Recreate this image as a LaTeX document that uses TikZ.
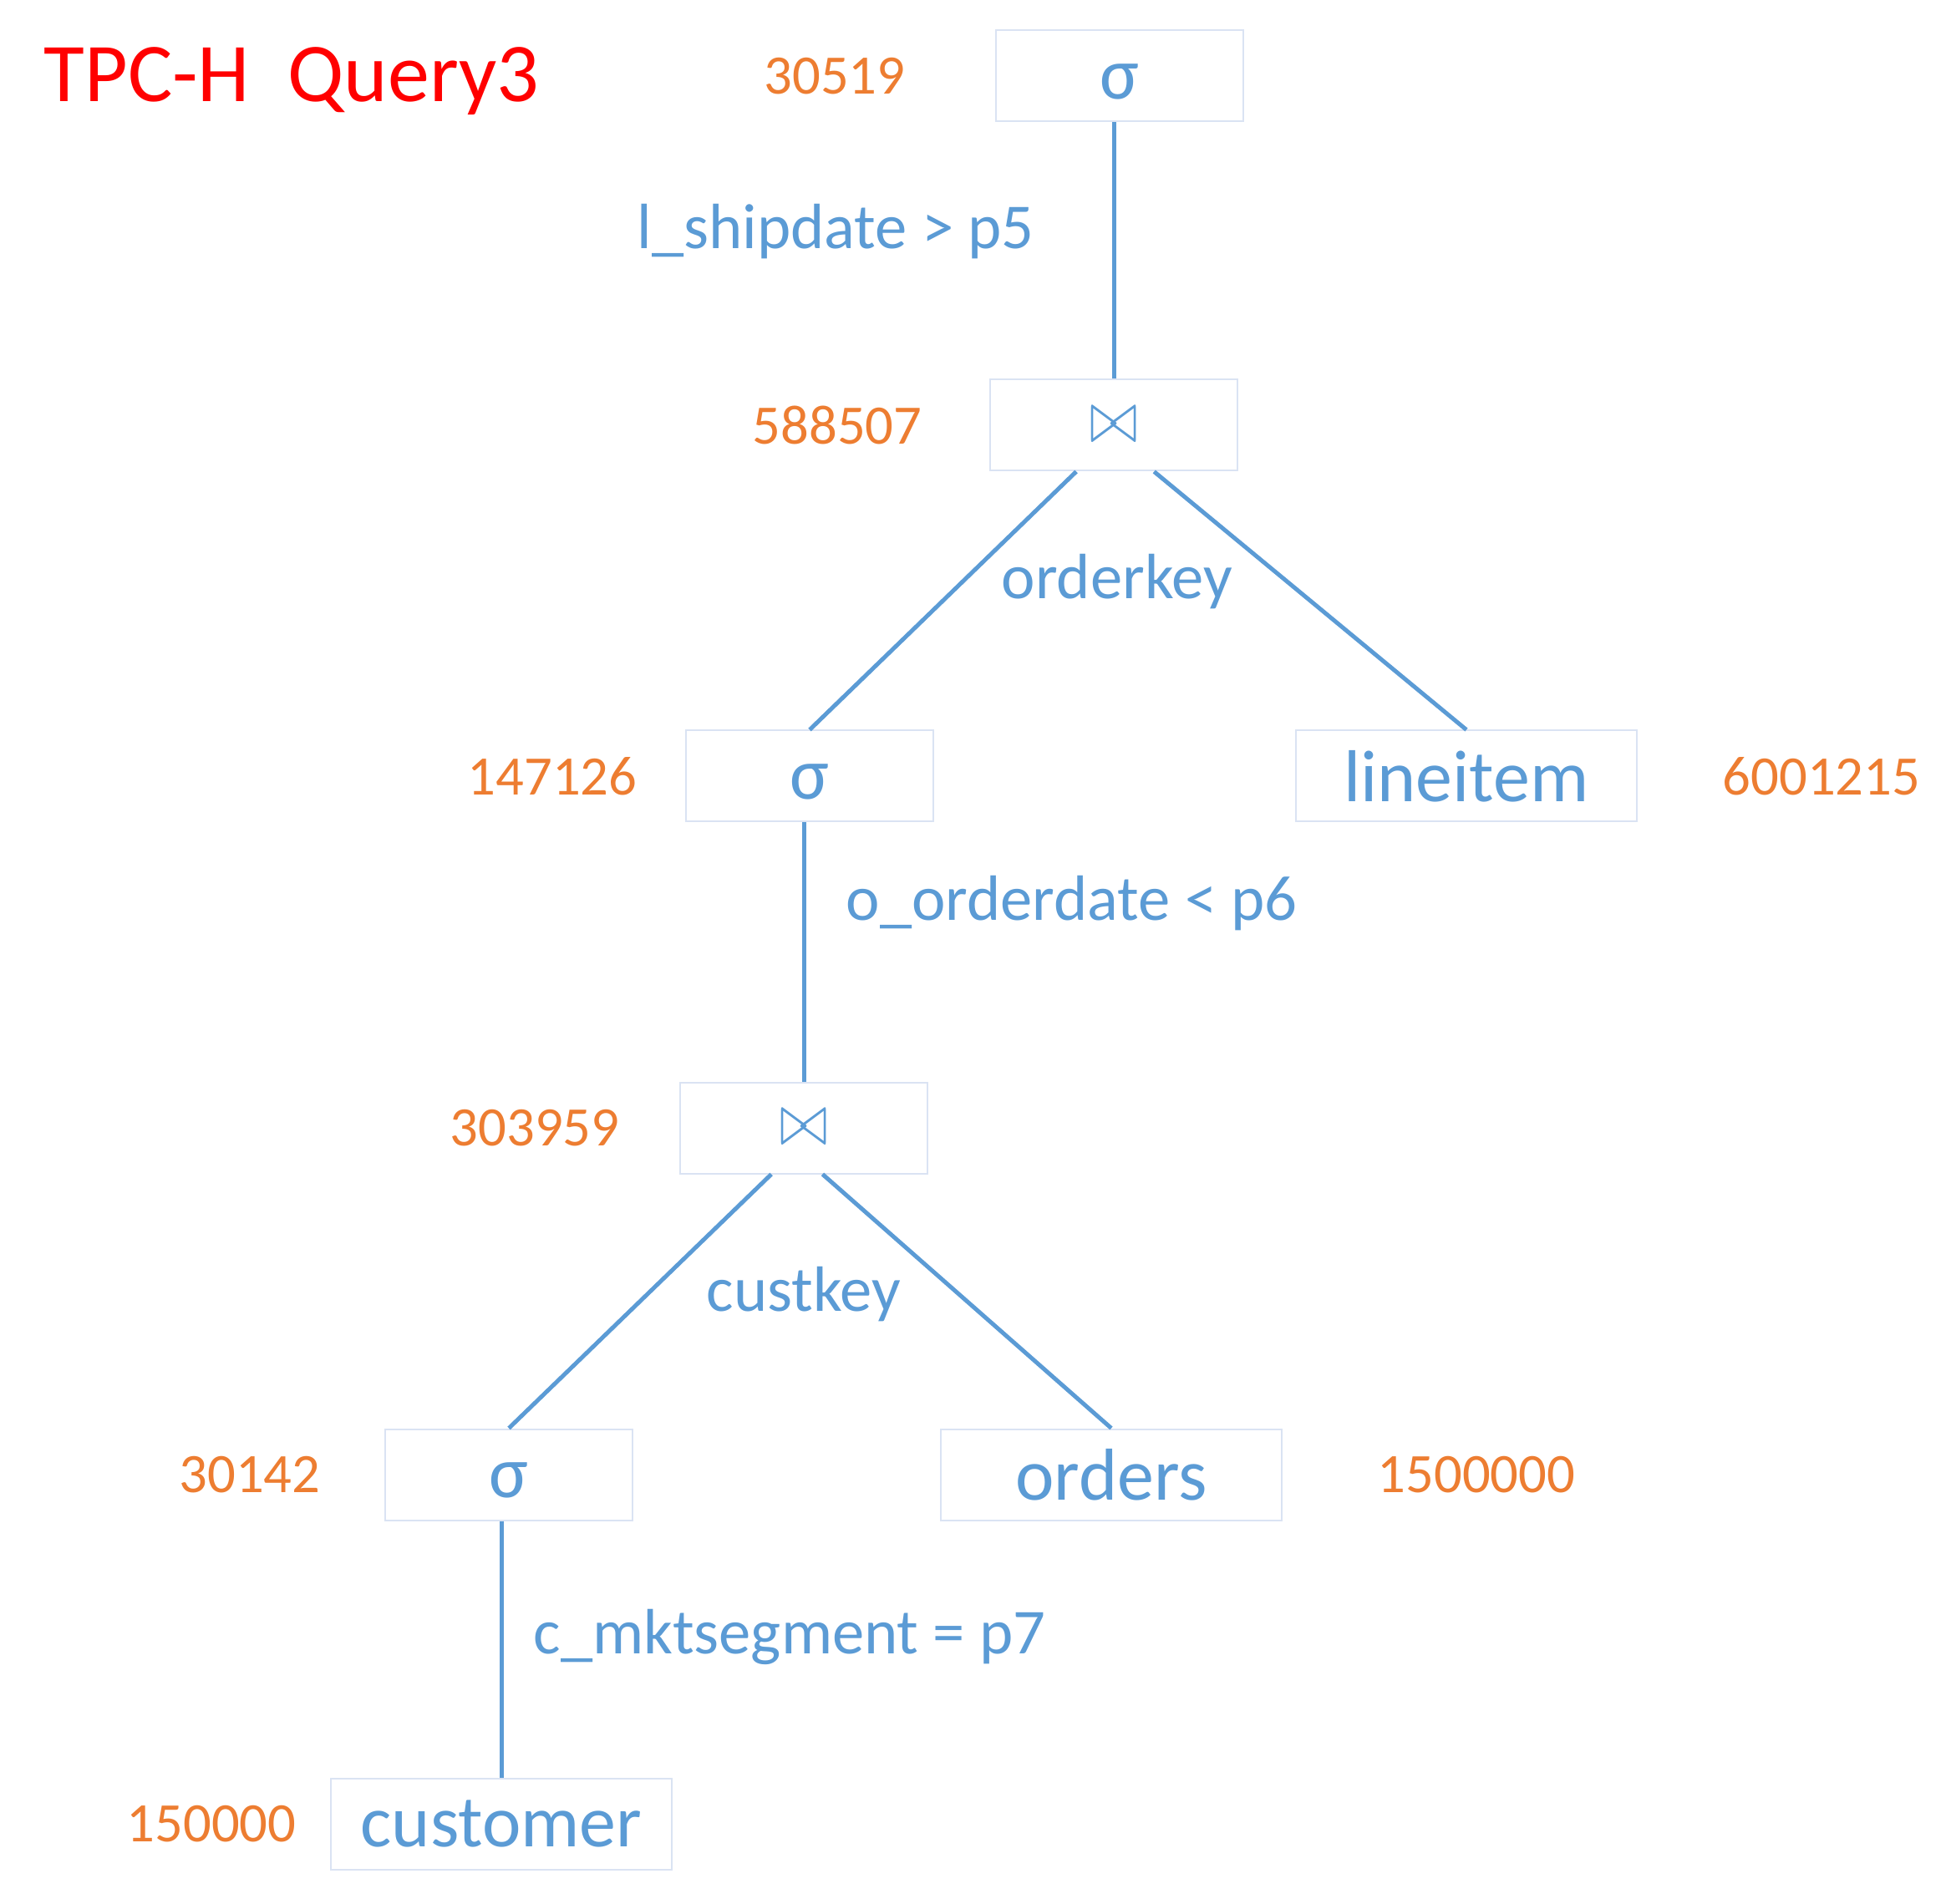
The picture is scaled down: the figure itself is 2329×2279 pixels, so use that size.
\documentclass[tikz,border=0pt]{standalone}
\usepackage{fontspec}
\usepackage{graphicx}
\setmainfont{Carlito}
\definecolor{lineblue}{HTML}{5B9BD5}
\definecolor{boxgray}{HTML}{DAE3F3}
\definecolor{cardorange}{HTML}{ED7D31}
\tikzset{
  opbox/.style={draw=boxgray, line width=0.6pt, minimum width=89pt, minimum height=32.7pt, inner sep=0pt, text=lineblue, font=\fontsize{26.4}{30}\selectfont},
  selbox/.style={opbox, text height=16.5pt, text depth=0pt},
  relbox/.style={opbox, minimum width=122.4pt},
  card/.style={inner sep=0pt, text=cardorange, font=\fontsize{20}{24}\selectfont},
  pred/.style={inner sep=0pt, anchor=base west, text=lineblue, font=\fontsize{23}{27}\selectfont},
  edge/.style={draw=lineblue, line width=1.5pt}
}
\newcommand{\joinop}{\resizebox{17pt}{12.5pt}{$\bowtie$}}
\begin{document}
\begin{tikzpicture}[x=0.3pt,y=-0.3pt]
\useasboundingbox (0,0) rectangle (2329,2279);

\node[inner sep=0pt, anchor=base west, text=red, font=\fontsize{30}{36}\selectfont] (title) at (52,122) {TPC-H\ \ Query3};

\node[selbox] (s1) at (1340,91) {σ};
\node[opbox] (j1) at (1333,509) {\joinop};
\node[selbox] (s2) at (969,929) {σ};
\node[relbox] (li) at (1755,929) {lineitem};
\node[opbox] (j2) at (962,1350) {\joinop};
\node[selbox] (s3) at (609,1765) {σ};
\node[relbox] (ord) at (1330,1765) {orders};
\node[relbox] (cu) at (600,2183) {customer};

\node[card] (n1) at (999,91) {30519};
\node[card] (n2) at (1002,509) {588507};
\node[card] (n3) at (661,929) {147126};
\node[card] (n4) at (2180,929) {6001215};
\node[card] (n5) at (640,1350) {303959};
\node[card] (n6) at (299,1765) {30142};
\node[card] (n7) at (1767,1765) {1500000};
\node[card] (n8) at (253,2183) {150000};

\node[pred] (p1) at (762,298) {l\_shipdate > p5};
\node[pred] (p2) at (1198,717) {orderkey};
\node[pred] (p3) at (1012,1101) {o\_orderdate < p6};
\node[pred] (p4) at (845,1569) {custkey};
\node[pred] (p5) at (638,1979) {c\_mktsegment = p7};

\draw[edge] (s1.south -| j1.north) -- (j1.north);
\draw[edge] (j1.-129) -- (s2.north);
\draw[edge] (j1.-49) -- (li.north);
\draw[edge] (s2.south -| j2.north) -- (j2.north);
\draw[edge] (j2.-125) -- (s3.north);
\draw[edge] (j2.-68) -- (ord.north);
\draw[edge] (s3.south -| cu.north) -- (cu.north);

\end{tikzpicture}
\end{document}
